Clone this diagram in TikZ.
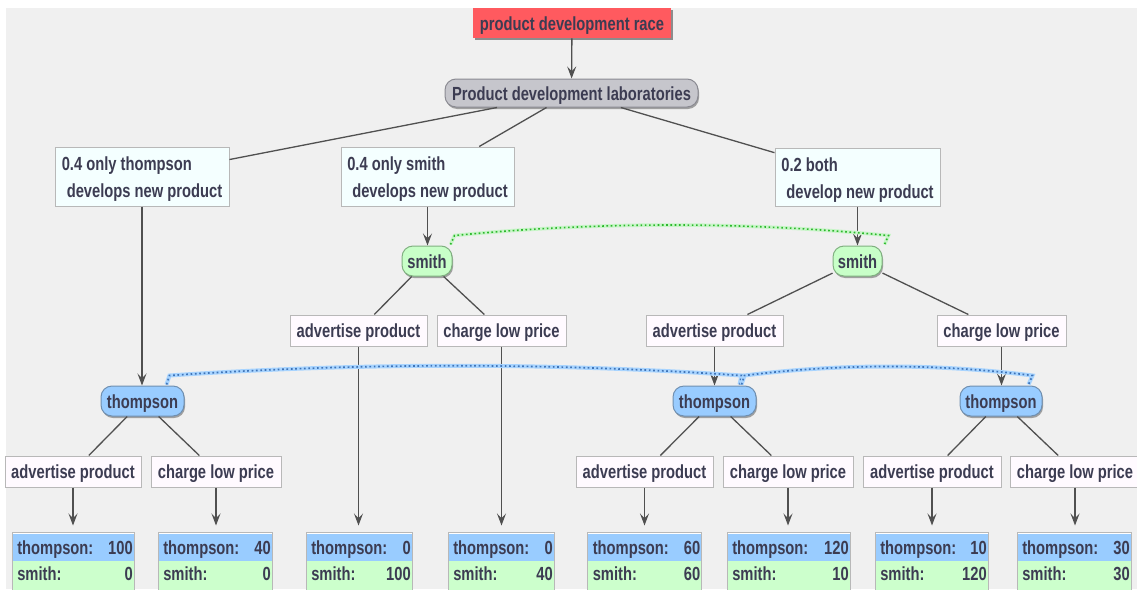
\documentclass[tikz,border=0pt]{standalone}
\usepackage{fontspec}
\newfontfamily\gtfont{Liberation Sans}[FakeStretch=0.775]
\usetikzlibrary{arrows.meta,shadows}
\newdimen\px \px=0.75pt

\definecolor{bggray}{HTML}{F0F0F0}
\definecolor{ink}{HTML}{3C3C52}
\definecolor{linegray}{HTML}{505050}
\definecolor{boxgray}{HTML}{B8B8B8}
\definecolor{racered}{HTML}{FF5A5F}
\definecolor{labgray}{HTML}{C6C6CC}
\definecolor{labedge}{HTML}{8A8A92}
\definecolor{tblue}{HTML}{99CCFF}
\definecolor{tedge}{HTML}{6F8FB0}
\definecolor{sgreen}{HTML}{C8FFC8}
\definecolor{sedge}{HTML}{80B080}
\definecolor{chancefill}{HTML}{F4FFFF}
\definecolor{actfill}{HTML}{FFFAFF}
\definecolor{payblue}{HTML}{99CCFF}
\definecolor{paygreen}{HTML}{CCFFCC}
\definecolor{bluehalo}{HTML}{A8D4FF}
\definecolor{bluedot}{HTML}{3F74B8}
\definecolor{greenhalo}{HTML}{C8F5C8}
\definecolor{greendot}{HTML}{2DB82D}
\definecolor{shadowgray}{HTML}{8C8C8C}

\tikzset{
  lbl/.style={font=\gtfont\bfseries\fontsize{14.25pt}{20.25pt}\selectfont,
    text=ink, inner sep=0pt},
  oneline/.style={lbl, text height=10.5pt, text depth=0pt},
  racebox/.style={oneline, rectangle, fill=racered,
    minimum width=198\px, minimum height=30\px,
    drop shadow={shadow xshift=1.5\px, shadow yshift=-1.5\px, fill=shadowgray, opacity=1}},
  pill/.style={oneline, rectangle, rounded corners=11\px, line width=1\px,
    minimum height=30\px,
    drop shadow={shadow xshift=1\px, shadow yshift=-2\px, fill=shadowgray, opacity=0.8}},
  labpill/.style={pill, fill=labgray, draw=labedge, minimum height=28\px},
  tpill/.style={pill, fill=tblue, draw=tedge, minimum width=83\px},
  spill/.style={pill, fill=sgreen, draw=sedge, minimum width=50\px},
  chance/.style={lbl, rectangle, align=left, fill=chancefill, draw=boxgray,
    line width=1\px, minimum height=59\px},
  act/.style={oneline, rectangle, fill=actfill, draw=boxgray, line width=1\px,
    minimum height=31\px},
  paybox/.style={rectangle, fill=white, draw=boxgray, line width=1\px,
    minimum height=62\px, inner sep=0pt},
  paytxt/.style={lbl, inner sep=0pt},
  conn/.style={draw=linegray, line width=1.3\px},
  arr/.style={conn, -{Stealth[length=9pt, width=6.75pt, inset=3.5pt]}},
  blueset/.style={draw=bluedot, line width=1.7\px, dotted,
    preaction={draw=bluehalo, line width=4\px, solid}},
  greenset/.style={draw=greendot, line width=1.6\px, dotted,
    preaction={draw=greenhalo, line width=3.5\px, solid}},
}

% strut that pushes the first line of a two-line label down
\newcommand\firstline{\rule{0pt}{14.7pt}}

% payoff table: name, centre x, width, thompson value, smith value
\newcommand\payoff[5]{%
  \node[paybox, minimum width=#3\px] (#1) at (#2,563) {};
  \fill[payblue] ([shift={(1,2)}]#1.north west) rectangle ([shift={(-1,29)}]#1.north east);
  \fill[paygreen] ([shift={(1,29)}]#1.north west) rectangle ([shift={(-1,0)}]#1.south east);
  \node[paytxt, anchor=base west] (#1tl) at ([shift={(5.5,23)}]#1.north west) {thompson:};
  \node[paytxt, anchor=base east] (#1tv) at ([shift={(-1.5,23)}]#1.north east) {#4};
  \node[paytxt, anchor=base west] (#1sl) at ([shift={(5.5,49)}]#1.north west) {smith:};
  \node[paytxt, anchor=base east] (#1sv) at ([shift={(-1.5,49)}]#1.north east) {#5};
}

\begin{document}
\begin{tikzpicture}[x=0.75pt, y=-0.75pt]
\useasboundingbox (0,0) rectangle (1137,589);
\clip (0,0) rectangle (1137,589);
\fill[white] (0,0) rectangle (1137,589);
\fill[bggray] (6,8) rectangle (1137,589);

% root and chance node
\node[racebox] (race) at (572,23) {product development race};
\node[labpill, minimum width=253\px] (lab) at (571.5,93) {Product development laboratories};

% chance outcomes
\node[chance, minimum width=174\px] (ca) at (142,176.5)
  {\firstline 0.4 only thompson\\\hspace*{3.75pt}develops new product};
\node[chance, minimum width=173\px] (cb) at (427.5,176.5)
  {\firstline 0.4 only smith\\\hspace*{3.75pt}develops new product};
\node[chance, minimum width=165\px, minimum height=58\px] (cc) at (857.5,177)
  {\firstline 0.2 both\\\hspace*{3.75pt}develop new product};

% smith decisions
\node[spill] (s1) at (427,261) {smith};
\node[spill, minimum width=49\px] (s2) at (857.5,261) {smith};

\node[act, minimum width=137\px] (s1a) at (358.5,330.5) {advertise product};
\node[act, minimum width=129\px] (s1c) at (501.5,330.5) {charge low price};
\node[act, minimum width=137\px] (s2a) at (714.5,330.5) {advertise product};
\node[act, minimum width=129\px] (s2c) at (1001.5,330.5) {charge low price};

% thompson decisions
\node[tpill] (t1) at (142.5,401) {thompson};
\node[tpill] (t2) at (714.5,401) {thompson};
\node[tpill, minimum width=82\px] (t3) at (1001,401) {thompson};

\node[act, minimum width=136\px] (t1a) at (73,471.5) {advertise product};
\node[act, minimum width=130\px] (t1c) at (216,471.5) {charge low price};
\node[act, minimum width=137\px] (t2a) at (644.5,471.5) {advertise product};
\node[act, minimum width=130\px] (t2c) at (788,471.5) {charge low price};
\node[act, minimum width=138\px] (t3a) at (932,471.5) {advertise product};
\node[act, minimum width=130\px] (t3c) at (1075,471.5) {charge low price};

% payoffs
\payoff{p1}{73}{122}{100}{0}
\payoff{p2}{215}{114}{40}{0}
\payoff{p3}{359}{106}{0}{100}
\payoff{p4}{501}{106}{0}{40}
\payoff{p5}{644.5}{114}{60}{60}
\payoff{p6}{788.5}{123}{120}{10}
\payoff{p7}{931.5}{113}{10}{120}
\payoff{p8}{1074}{114}{30}{30}

% tree edges
\draw[arr] (race) -- (lab);
\draw[conn] (lab) -- (ca);
\draw[conn] (lab) -- (cb);
\draw[conn] (lab) -- (cc);
\draw[arr] (ca.south) -- (ca.south |- t1.north);
\draw[arr] (cb.south) -- (cb.south |- s1.north);
\draw[arr] (cc.south) -- (cc.south |- s2.north);
\draw[conn] (s1) -- (s1a);
\draw[conn] (s1) -- (s1c);
\draw[conn] (s2) -- (s2a);
\draw[conn] (s2) -- (s2c);
\draw[arr] (s2a.south) -- (s2a.south |- t2.north);
\draw[arr] (s2c.south) -- (s2c.south |- t3.north);
\draw[conn] (t1) -- (t1a);
\draw[conn] (t1) -- (t1c);
\draw[conn] (t2) -- (t2a);
\draw[conn] (t2) -- (t2c);
\draw[conn] (t3) -- (t3a);
\draw[conn] (t3) -- (t3c);
\foreach \a/\p in {t1a/p1, t1c/p2, s1a/p3, s1c/p4, t2a/p5, t2c/p6, t3a/p7, t3c/p8}
  \draw[arr, shorten >=6\px] (\a.south) -- (\a.south |- \p.north);

% information sets
\draw[greenset] ([shift={(-2,-1)}]s1.north east) -- ++(4,-9)
  .. controls +(145,-14) and +(-145,-14) .. ([shift={(6,-10)}]s2.north east)
  -- ([shift={(2,-1)}]s2.north east);
\draw[blueset] ([shift={(-18,-1)}]t1.north east) -- ++(3,-9)
  .. controls +(190,-13) and +(-190,-13) .. ([shift={(-15,-10)}]t2.north east)
  -- ([shift={(-17,-1)}]t2.north east);
\draw[blueset] ([shift={(-15,-1)}]t2.north east) -- ++(3,-9)
  .. controls +(95,-12) and +(-95,-12) .. ([shift={(-10,-10)}]t3.north east)
  -- ([shift={(-14,-1)}]t3.north east);
\end{tikzpicture}
\end{document}
